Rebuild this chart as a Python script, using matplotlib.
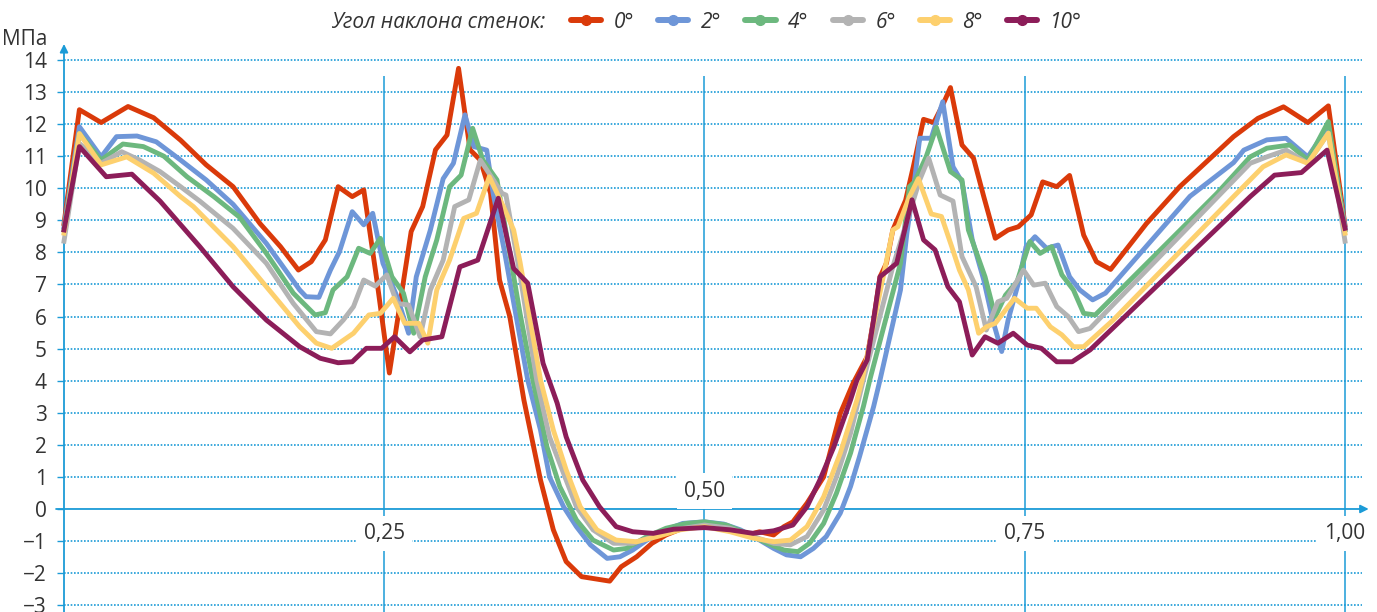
import matplotlib
matplotlib.use('Agg')
import matplotlib.pyplot as plt
from matplotlib.lines import Line2D

plt.rcParams['font.family'] = ['Open Sans', 'DejaVu Sans']

# wall angle series: x = relative position, y = stress, MPa
labels = ['0°', '2°', '4°', '6°', '8°', '10°']
colors = ['#da3a0a', '#6e96d8', '#6cb87e', '#b3b3b3', '#fdd06e', '#8c1d59']

x0 = [0, 0.012, 0.029, 0.050, 0.070, 0.091, 0.111, 0.132, 0.153, 0.169, 0.183, 0.193, 0.204, 0.214,
      0.225, 0.234, 0.244, 0.254, 0.271, 0.280, 0.290, 0.299, 0.308, 0.317, 0.325, 0.333, 0.340, 0.348,
      0.359, 0.372, 0.382, 0.392, 0.404, 0.426, 0.435, 0.447, 0.459, 0.470, 0.483, 0.500, 0.517, 0.536,
      0.543, 0.554, 0.562, 0.569, 0.580, 0.593, 0.606, 0.616, 0.627, 0.632, 0.637, 0.642, 0.647, 0.657,
      0.663, 0.671, 0.679, 0.686, 0.692, 0.701, 0.710, 0.718, 0.727, 0.737, 0.745, 0.755, 0.764, 0.775,
      0.785, 0.796, 0.806, 0.817, 0.845, 0.871, 0.913, 0.932, 0.952, 0.971, 0.987, 1.0]
y0 = [8.9, 12.45, 12.05, 12.55, 12.2, 11.5, 10.73, 10.05, 8.9, 8.18, 7.45, 7.71, 8.39, 10.05,
      9.74, 9.95, 7.2, 4.24, 8.65, 9.43, 11.2, 11.66, 13.74, 11.2, 10.88, 9.84, 7.14, 6.0,
      3.4, 0.9, -0.65, -1.64, -2.11, -2.25, -1.8, -1.49, -1.07, -0.81, -0.6, -0.55, -0.6, -0.78,
      -0.71, -0.81, -0.55, -0.4, 0.18, 1.0, 2.98, 3.92, 4.75, 5.9, 7.24, 7.66, 8.7, 9.63,
      10.67, 12.15, 12.05, 12.6, 13.14, 11.35, 10.94, 9.74, 8.44, 8.7, 8.8, 9.17, 10.2, 10.05,
      10.4, 8.54, 7.71, 7.47, 8.9, 10.05, 11.61, 12.18, 12.54, 12.05, 12.57, 8.85]

x2 = [0, 0.012, 0.029, 0.041, 0.057, 0.072, 0.091, 0.111, 0.132, 0.158, 0.184, 0.189, 0.199, 0.208,
      0.215, 0.225, 0.234, 0.241, 0.249, 0.260, 0.269, 0.275, 0.286, 0.296, 0.304, 0.313, 0.320, 0.330,
      0.335, 0.344, 0.353, 0.362, 0.372, 0.379, 0.390, 0.400, 0.411, 0.424, 0.434, 0.444, 0.455, 0.470,
      0.483, 0.500, 0.515, 0.528, 0.543, 0.554, 0.564, 0.575, 0.585, 0.595, 0.606, 0.614, 0.621, 0.632,
      0.637, 0.653, 0.658, 0.664, 0.668, 0.677, 0.686, 0.694, 0.701, 0.709, 0.718, 0.725, 0.732, 0.737,
      0.745, 0.751, 0.758, 0.767, 0.776, 0.785, 0.793, 0.803, 0.813, 0.879, 0.913, 0.921, 0.939, 0.954,
      0.971, 0.987, 1.0]
y2 = [8.8, 11.92, 10.98, 11.61, 11.63, 11.45, 10.88, 10.26, 9.5, 8.28, 6.83, 6.62, 6.6, 7.45,
      8.02, 9.27, 8.86, 9.22, 7.66, 6.62, 5.48, 7.24, 8.7, 10.3, 10.78, 12.29, 11.3, 11.19,
      9.84, 8.0, 6.0, 4.02, 2.46, 1.0, 0.07, -0.55, -1.12, -1.54, -1.49, -1.28, -0.97, -0.65,
      -0.45, -0.4, -0.47, -0.65, -0.97, -1.23, -1.43, -1.49, -1.23, -0.86, -0.13, 0.7, 1.63, 3.19,
      4.02, 6.83, 8.6, 10.26, 11.56, 11.56, 12.7, 10.67, 10.2, 8.4, 7.14, 5.89, 4.91, 5.89,
      7.04, 8.18, 8.49, 8.13, 8.23, 7.24, 6.83, 6.52, 6.73, 9.75, 10.8, 11.19, 11.51, 11.56,
      10.98, 11.92, 8.8]

x4 = [0, 0.012, 0.029, 0.046, 0.062, 0.078, 0.096, 0.117, 0.137, 0.158, 0.179, 0.196, 0.204, 0.210,
      0.221, 0.230, 0.239, 0.247, 0.256, 0.265, 0.273, 0.282, 0.291, 0.301, 0.310, 0.319, 0.327, 0.338,
      0.347, 0.356, 0.366, 0.377, 0.387, 0.400, 0.413, 0.429, 0.439, 0.455, 0.470, 0.486, 0.500, 0.517,
      0.533, 0.549, 0.562, 0.573, 0.582, 0.593, 0.603, 0.614, 0.624, 0.629, 0.653, 0.660, 0.664, 0.673,
      0.681, 0.692, 0.701, 0.706, 0.719, 0.727, 0.735, 0.744, 0.754, 0.762, 0.771, 0.779, 0.788, 0.796,
      0.805, 0.900, 0.926, 0.939, 0.957, 0.971, 0.987, 1.0]
y4 = [8.7, 11.7, 10.88, 11.38, 11.3, 11.0, 10.36, 9.74, 9.1, 7.97, 6.73, 6.05, 6.12, 6.83,
      7.24, 8.13, 7.97, 8.44, 7.24, 6.73, 5.48, 7.24, 8.39, 10.05, 10.41, 11.87, 10.88, 10.26,
      8.2, 6.1, 4.02, 1.94, 0.7, -0.34, -0.97, -1.28, -1.23, -0.86, -0.6, -0.45, -0.4, -0.5,
      -0.76, -1.07, -1.28, -1.33, -1.07, -0.45, 0.49, 1.74, 3.19, 4.02, 7.66, 10.05, 10.2, 10.98,
      11.9, 10.52, 10.26, 8.7, 7.24, 6.0, 6.67, 7.09, 8.34, 7.97, 8.18, 7.3, 6.83, 6.1,
      6.05, 9.84, 10.98, 11.25, 11.35, 10.88, 12.08, 8.7]

x6 = [0, 0.012, 0.029, 0.045, 0.059, 0.075, 0.091, 0.106, 0.132, 0.158, 0.179, 0.197, 0.208, 0.218,
      0.226, 0.234, 0.243, 0.252, 0.260, 0.269, 0.278, 0.286, 0.296, 0.305, 0.316, 0.325, 0.342, 0.345,
      0.356, 0.369, 0.379, 0.390, 0.400, 0.413, 0.429, 0.444, 0.460, 0.476, 0.500, 0.520, 0.538, 0.554,
      0.567, 0.580, 0.593, 0.603, 0.614, 0.624, 0.647, 0.668, 0.675, 0.684, 0.694, 0.701, 0.712, 0.720,
      0.729, 0.736, 0.749, 0.757, 0.766, 0.775, 0.784, 0.792, 0.801, 0.926, 0.939, 0.954, 0.971, 0.987,
      1.0]
y6 = [8.35, 11.4, 10.78, 11.14, 10.88, 10.52, 10.05, 9.6, 8.75, 7.66, 6.41, 5.53, 5.46, 5.89,
      6.31, 7.14, 6.95, 7.3, 6.41, 6.36, 5.37, 6.83, 7.76, 9.43, 9.64, 10.88, 9.84, 9.79,
      7.3, 4.02, 2.25, 1.11, 0.07, -0.65, -1.07, -1.07, -0.86, -0.65, -0.5, -0.6, -0.86, -1.07,
      -1.12, -0.86, -0.03, 1.0, 2.36, 4.02, 7.55, 10.26, 10.94, 9.79, 9.6, 7.87, 6.93, 5.58,
      6.46, 6.57, 7.45, 6.98, 7.04, 6.31, 6.0, 5.53, 5.63, 10.78, 10.98, 11.19, 10.78, 11.72,
      8.35]

x8 = [0, 0.012, 0.029, 0.049, 0.070, 0.091, 0.101, 0.132, 0.158, 0.184, 0.197, 0.209, 0.226, 0.238,
      0.247, 0.257, 0.266, 0.277, 0.284, 0.291, 0.301, 0.312, 0.322, 0.332, 0.343, 0.351, 0.356, 0.372,
      0.382, 0.392, 0.403, 0.416, 0.431, 0.447, 0.463, 0.481, 0.500, 0.520, 0.538, 0.554, 0.567, 0.580,
      0.593, 0.606, 0.619, 0.623, 0.647, 0.651, 0.660, 0.667, 0.677, 0.685, 0.693, 0.699, 0.706, 0.714,
      0.720, 0.727, 0.742, 0.752, 0.759, 0.770, 0.779, 0.788, 0.796, 0.819, 0.913, 0.936, 0.954, 0.971,
      0.987, 1.0]
y8 = [8.6, 11.71, 10.73, 10.98, 10.47, 9.74, 9.43, 8.18, 6.93, 5.68, 5.17, 5.01, 5.48, 6.05,
      6.1, 6.57, 5.79, 5.79, 5.17, 6.83, 7.76, 9.06, 9.22, 10.36, 9.43, 8.7, 7.7, 4.02,
      2.46, 1.22, 0.07, -0.65, -0.97, -1.02, -0.86, -0.65, -0.55, -0.71, -0.91, -1.02, -0.97, -0.55,
      0.38, 1.74, 3.4, 4.02, 8.7, 8.8, 9.74, 10.3, 9.2, 9.12, 8.18, 7.45, 6.83, 5.48,
      5.68, 5.79, 6.57, 6.26, 6.26, 5.68, 5.43, 5.06, 5.06, 5.89, 9.74, 10.67, 11.04, 10.78,
      11.72, 8.6]

x10 = [0, 0.012, 0.033, 0.053, 0.075, 0.106, 0.132, 0.158, 0.184, 0.200, 0.214, 0.225, 0.236, 0.248,
       0.258, 0.270, 0.280, 0.295, 0.309, 0.323, 0.339, 0.351, 0.362, 0.374, 0.385, 0.392, 0.405, 0.418,
       0.431, 0.444, 0.460, 0.476, 0.500, 0.520, 0.538, 0.554, 0.569, 0.580, 0.590, 0.601, 0.614, 0.619,
       0.627, 0.632, 0.637, 0.650, 0.662, 0.671, 0.680, 0.690, 0.699, 0.709, 0.719, 0.729, 0.741, 0.752,
       0.763, 0.775, 0.787, 0.801, 0.926, 0.945, 0.966, 0.986, 1.0]
y10 = [8.7, 11.3, 10.36, 10.44, 9.6, 8.18, 6.93, 5.89, 5.06, 4.7, 4.56, 4.59, 5.01, 5.01,
       5.37, 4.9, 5.27, 5.37, 7.55, 7.76, 9.69, 7.5, 7.04, 4.54, 3.3, 2.25, 0.9, 0.07,
       -0.55, -0.71, -0.76, -0.63, -0.58, -0.65, -0.76, -0.68, -0.5, 0.07, 0.9, 1.94, 3.4, 4.02,
       4.65, 5.89, 7.24, 7.66, 9.64, 8.39, 8.08, 6.93, 6.46, 4.8, 5.37, 5.17, 5.48, 5.11,
       5.01, 4.59, 4.59, 4.96, 9.74, 10.41, 10.49, 11.19, 8.75]

series_x = [x0, x2, x4, x6, x8, x10]
series_y = [y0, y2, y4, y6, y8, y10]

y_ticks = list(range(-3, 15))
y_ticklabels = [str(v).replace('-', '\u2212') for v in y_ticks]
x_marks = [0.25, 0.5, 0.75, 1.0]
x_marklabels = ['0,25', '0,50', '0,75', '1,00']

grid_c = '#1b9bd7'
text_c = '#333333'
fs = 15

fig = plt.figure(figsize=(13.77, 6.12), dpi=100)
ax = fig.add_axes([64 / 1377, (612 - 605.2) / 612, 1281 / 1377, 545.2 / 612])
ax.set_xlim(0, 1)
ax.set_ylim(-3, 14)
for s in ax.spines.values():
    s.set_visible(False)

ax.set_xticks([])
ax.set_yticks(y_ticks)
ax.set_yticklabels(y_ticklabels)
ax.tick_params(axis='y', length=5.3, width=1.0, color=grid_c, pad=7,
               labelsize=fs, labelcolor=text_c)

# dotted horizontal grid
for v in y_ticks:
    if v != 0:
        ax.plot([0, 1.0133], [v, v], color=grid_c, lw=1.2, ls=(0, (1, 1)),
                clip_on=False, zorder=1)

# vertical lines
ax.vlines(x_marks, -3.3, 13.5, color=grid_c, lw=1.1, clip_on=False, zorder=1)

# axes with arrows
ax.annotate('', xy=(0, 14.5), xytext=(0, -3.3), annotation_clip=False,
            arrowprops=dict(arrowstyle='-|>', color=grid_c, lw=1.3,
                            mutation_scale=12, shrinkA=0, shrinkB=0), zorder=2)
ax.annotate('', xy=(1.0185, 0), xytext=(-0.0062, 0), annotation_clip=False,
            arrowprops=dict(arrowstyle='-|>', color=grid_c, lw=1.3,
                            mutation_scale=12, shrinkA=0, shrinkB=0), zorder=2)

for xv, lab in zip(x_marks, x_marklabels):
    yv = 0.56 if xv == 0.5 else -0.76
    ax.text(xv, yv, lab, ha='center', va='center', fontsize=fs, color=text_c, zorder=3,
            bbox=dict(facecolor='white', edgecolor='none', boxstyle='square,pad=0.35'),
            clip_on=False)

ax.text(-0.0133, 14.65, 'МПа', ha='right', va='center', fontsize=fs, color=text_c,
        clip_on=False)

for xs, ys, c in zip(series_x, series_y, colors):
    ax.plot(xs, ys, color=c, lw=3.5, solid_joinstyle='round', clip_on=False, zorder=4)

# legend
handles = [Line2D([], [], color=c, lw=4.3, marker='o', markersize=7, solid_capstyle='round')
           for c in colors]
fig.legend(handles, labels, loc='center left', bbox_to_anchor=(571 / 1377, 1 - 22 / 612),
           ncol=6, frameon=False, handlelength=1.45, handletextpad=0.6, columnspacing=1.15,
           borderpad=0, borderaxespad=0, numpoints=1,
           prop=dict(size=fs, style='italic'), labelcolor=text_c)
fig.text(545 / 1377, 1 - 22 / 612, 'Угол наклона стенок:', ha='right', va='center',
         fontsize=fs, style='italic', color=text_c)

fig.savefig('out.png', dpi=100)
